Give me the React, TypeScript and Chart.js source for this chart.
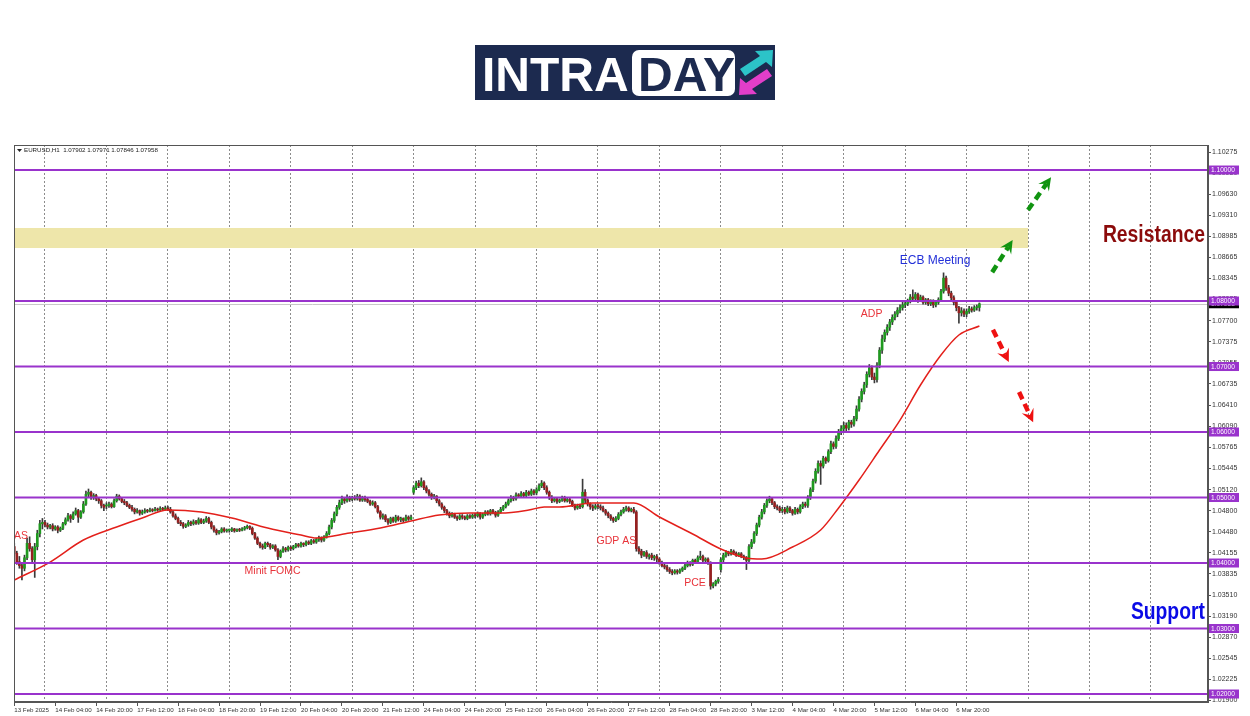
import React, { useEffect, useRef } from 'react';
import { Chart, registerables } from 'chart.js';

Chart.register(...registerables);

// ---------- DATA (EURUSD H1, prices stored in pips above 1.0000, e.g. 415 = 1.0415) ----------
const OPEN = [
  425, 415, 402, 396, 392, 408, 430, 422, 405, 425, 445, 460,
  462, 458, 455, 457, 452, 455, 450, 453, 460, 466, 472, 468, 475, 480, 470, 478, 490, 505, 508, 500, 503, 498, 495, 488,
  487, 488, 490, 486, 495, 502, 498, 494, 492, 488, 485, 482, 478, 480, 476, 478, 480, 479, 481, 480, 482, 481, 483, 482,
  484, 482, 478, 472, 468, 462, 460, 456, 458, 462, 460, 463, 461, 466, 462, 464, 468, 462, 455, 450, 446, 448, 452, 449,
  450, 450, 452, 449, 451, 450, 452, 454, 456, 453, 445, 438, 430, 426, 424, 430, 428, 424, 426, 420, 410, 418, 422, 420,
  424, 422, 425, 428, 426, 430, 428, 432, 430, 434, 432, 436, 438, 435, 440, 445, 455, 465, 475, 485, 492, 498, 495, 500,
  497, 500, 498, 502, 496, 500, 497, 494, 490, 492, 486, 478, 470, 472, 466, 462, 468, 464, 470, 466, 468, 465, 470, 467,
  508, 515, 522, 518, 524, 515, 510, 505, 500, 502, 495, 490, 485, 480, 476, 472, 474, 470, 468, 472, 470, 468, 472, 470,
  473, 472, 476, 470, 474, 478, 475, 480, 477, 473, 478, 482, 486, 490, 495, 500, 498, 504, 502, 506, 503, 508, 505, 510,
  507, 512, 518, 522, 515, 508, 500, 495, 498, 494, 496, 500, 495, 497, 494, 488, 484, 487, 486, 508, 496, 490, 486, 484,
  487, 486, 484, 480, 476, 472, 468, 465, 468, 474, 478, 482, 484, 480, 482, 478, 422, 418, 412, 416, 410, 412, 408, 410,
  406, 400, 396, 394, 390, 387, 385, 388, 386, 389, 392, 396, 400, 398, 404, 402, 408, 410, 404, 406, 400, 365, 368, 372,
  390, 405, 412, 416, 414, 418, 415, 412, 414, 410, 408, 404, 425, 432, 445, 458, 470, 478, 488, 495, 498, 492, 486, 484,
  480, 482, 478, 484, 480, 476, 482, 478, 486, 490, 488, 500, 512, 525, 540, 552, 548, 560, 556, 570, 582, 578, 590, 600,
  605, 610, 606, 615, 612, 620, 635, 650, 662, 672, 688, 698, 684, 680, 702, 725, 742, 752, 760, 768, 775, 780, 786, 790,
  794, 796, 800, 806, 804, 810, 802, 806, 798, 802, 796, 800, 794, 798, 802, 815, 835, 820, 812, 805, 798, 790, 782, 785,
  780, 784, 788, 786, 790, 790.2,
];
const HIGH = [
  430, 418, 410, 400, 412, 438, 440, 425, 430, 450, 465, 468,
  465, 461, 459, 460, 457, 457, 455, 462, 469, 476, 474, 478, 484, 482, 480, 494, 510, 513, 510, 506, 505, 500, 497, 490,
  492, 493, 492, 498, 505, 504, 500, 497, 494, 490, 488, 484, 483, 481, 481, 483, 482, 484, 483, 485, 484, 486, 485, 487,
  487, 485, 480, 475, 470, 465, 462, 460, 465, 464, 466, 465, 469, 468, 467, 471, 470, 464, 457, 452, 450, 454, 454, 452,
  452, 454, 453, 452, 453, 454, 456, 458, 457, 455, 447, 440, 432, 429, 432, 432, 430, 428, 428, 422, 420, 425, 424, 426,
  426, 427, 430, 430, 432, 431, 434, 434, 436, 436, 438, 441, 440, 442, 448, 458, 468, 478, 488, 496, 502, 500, 504, 502,
  502, 503, 505, 504, 502, 502, 499, 496, 495, 494, 488, 480, 475, 474, 468, 470, 470, 473, 472, 470, 469, 473, 472, 473,
  518, 525, 526, 530, 526, 518, 512, 507, 505, 503, 497, 492, 487, 482, 478, 477, 476, 472, 474, 474, 472, 474, 474, 475,
  476, 478, 477, 476, 480, 480, 482, 482, 479, 480, 485, 488, 493, 498, 503, 502, 507, 506, 509, 508, 511, 510, 513, 512,
  515, 521, 526, 524, 518, 510, 503, 500, 500, 498, 502, 502, 499, 499, 496, 490, 490, 490, 528, 512, 498, 492, 489, 490,
  490, 489, 487, 482, 478, 474, 470, 471, 477, 481, 485, 487, 486, 484, 485, 480, 425, 421, 418, 419, 414, 415, 412, 413,
  408, 403, 399, 397, 393, 390, 390, 390, 391, 394, 399, 403, 402, 406, 406, 411, 418, 412, 408, 408, 402, 370, 374, 378,
  408, 415, 419, 418, 421, 420, 417, 416, 416, 412, 410, 428, 436, 448, 461, 473, 482, 491, 498, 502, 500, 494, 489, 487,
  485, 485, 487, 486, 482, 485, 484, 489, 493, 493, 503, 515, 528, 544, 556, 556, 563, 562, 573, 586, 585, 594, 604, 610,
  615, 614, 618, 618, 624, 640, 654, 666, 676, 692, 703, 701, 690, 706, 729, 748, 756, 764, 772, 779, 784, 790, 794, 798,
  800, 803, 810, 817, 813, 812, 809, 808, 804, 804, 802, 802, 800, 805, 818, 843, 838, 824, 815, 808, 800, 792, 790, 788,
  788, 792, 791, 793, 794, 797.1,
];
const LOW = [
  412, 398, 392, 374, 388, 405, 418, 400, 378, 420, 440, 452,
  455, 452, 452, 449, 450, 446, 448, 451, 458, 464, 462, 466, 473, 462, 468, 476, 488, 500, 497, 497, 495, 491, 484, 480,
  483, 485, 484, 485, 493, 496, 492, 489, 486, 483, 479, 475, 476, 473, 474, 476, 477, 478, 478, 479, 479, 480, 480, 481,
  480, 476, 470, 466, 460, 457, 453, 454, 456, 457, 458, 459, 459, 460, 460, 462, 460, 452, 447, 443, 444, 446, 447, 447,
  447, 448, 447, 448, 448, 449, 450, 452, 451, 443, 436, 428, 423, 421, 422, 425, 421, 422, 418, 405, 408, 416, 417, 418,
  419, 420, 423, 424, 424, 425, 426, 428, 428, 430, 430, 433, 432, 433, 438, 443, 452, 462, 472, 482, 489, 491, 493, 494,
  495, 496, 496, 494, 494, 494, 492, 488, 488, 484, 476, 467, 467, 463, 459, 460, 462, 462, 464, 463, 462, 464, 465, 466,
  505, 512, 515, 516, 512, 507, 502, 497, 498, 492, 487, 482, 477, 473, 469, 470, 468, 465, 466, 467, 466, 466, 468, 468,
  469, 470, 467, 468, 472, 473, 473, 475, 470, 471, 476, 480, 484, 488, 493, 495, 496, 500, 500, 500, 501, 503, 503, 504,
  504, 510, 515, 512, 505, 497, 492, 493, 491, 492, 494, 493, 493, 491, 486, 481, 482, 483, 484, 492, 487, 482, 480, 482,
  483, 481, 478, 473, 469, 465, 462, 463, 466, 472, 476, 479, 478, 478, 476, 418, 414, 408, 410, 407, 406, 405, 404, 402,
  398, 394, 391, 387, 384, 382, 383, 383, 384, 387, 390, 394, 395, 396, 400, 400, 405, 402, 401, 398, 360, 362, 365, 369,
  386, 402, 409, 411, 412, 413, 410, 410, 408, 405, 390, 402, 422, 430, 442, 455, 467, 475, 485, 492, 489, 483, 481, 477,
  477, 475, 476, 477, 473, 474, 475, 476, 483, 485, 485, 497, 509, 522, 537, 520, 545, 552, 554, 567, 574, 575, 587, 596,
  600, 602, 603, 607, 609, 617, 632, 646, 658, 668, 684, 680, 675, 676, 698, 720, 738, 748, 755, 764, 771, 776, 782, 786,
  790, 793, 797, 800, 801, 798, 800, 795, 795, 793, 793, 790, 791, 795, 800, 812, 816, 808, 801, 794, 785, 766, 777, 776,
  776, 781, 783, 784, 786, 784.6,
];
const CLOSE = [
  415, 402, 396, 392, 408, 430, 422, 405, 425, 445, 460, 462,
  458, 455, 457, 452, 455, 450, 453, 460, 466, 472, 468, 475, 480, 470, 478, 490, 505, 508, 500, 503, 498, 495, 488, 485,
  488, 490, 486, 495, 502, 498, 494, 492, 488, 485, 482, 478, 480, 476, 478, 480, 479, 481, 480, 482, 481, 483, 482, 484,
  482, 478, 472, 468, 462, 460, 456, 458, 462, 460, 463, 461, 466, 462, 464, 468, 462, 455, 450, 446, 448, 452, 449, 450,
  450, 452, 449, 451, 450, 452, 454, 456, 453, 445, 438, 430, 426, 424, 430, 428, 424, 426, 420, 410, 418, 422, 420, 424,
  422, 425, 428, 426, 430, 428, 432, 430, 434, 432, 436, 438, 435, 440, 445, 455, 465, 475, 485, 492, 498, 495, 500, 497,
  500, 498, 502, 496, 500, 497, 494, 490, 492, 486, 478, 470, 472, 466, 462, 468, 464, 470, 466, 468, 465, 470, 467, 470,
  515, 522, 518, 524, 515, 510, 505, 500, 502, 495, 490, 485, 480, 476, 472, 474, 470, 468, 472, 470, 468, 472, 470, 473,
  472, 476, 470, 474, 478, 475, 480, 477, 473, 478, 482, 486, 490, 495, 500, 498, 504, 502, 506, 503, 508, 505, 510, 507,
  512, 518, 522, 515, 508, 500, 495, 498, 494, 496, 500, 495, 497, 494, 488, 484, 487, 486, 508, 496, 490, 486, 484, 487,
  486, 484, 480, 476, 472, 468, 465, 468, 474, 478, 482, 484, 480, 482, 478, 422, 418, 412, 416, 410, 412, 408, 410, 406,
  400, 396, 394, 390, 387, 385, 388, 386, 389, 392, 396, 400, 398, 404, 402, 408, 410, 404, 406, 400, 365, 368, 372, 375,
  405, 412, 416, 414, 418, 415, 412, 414, 410, 408, 404, 425, 432, 445, 458, 470, 478, 488, 495, 498, 492, 486, 484, 480,
  482, 478, 484, 480, 476, 482, 478, 486, 490, 488, 500, 512, 525, 540, 552, 548, 560, 556, 570, 582, 578, 590, 600, 605,
  610, 606, 615, 612, 620, 635, 650, 662, 672, 688, 698, 684, 680, 702, 725, 742, 752, 760, 768, 775, 780, 786, 790, 794,
  796, 800, 806, 804, 810, 802, 806, 798, 802, 796, 800, 794, 798, 802, 815, 835, 820, 812, 805, 798, 790, 782, 785, 780,
  784, 788, 786, 790, 790, 795.8,
];

// Moving average (red line), sampled at bar indices
const MA_BARS = [0, 14, 27, 40, 50, 60, 73, 85, 99, 112, 118, 131, 143, 155, 166, 178, 190, 201, 207, 213, 226, 242, 252, 265, 276, 286, 292, 304, 315, 322, 330, 338, 346, 354, 362, 369, 377];
const MA_VALUES = [1.0374, 1.04015, 1.04351, 1.0455, 1.04687, 1.04809, 1.04779, 1.04687, 1.04534, 1.04427, 1.04382, 1.04458, 1.04534, 1.04641, 1.04733, 1.04763, 1.04763, 1.04809, 1.04855, 1.04855, 1.04916, 1.04916, 1.04702, 1.04443, 1.04214, 1.04076, 1.04061, 1.04244, 1.04504, 1.0484, 1.05267, 1.05725, 1.06183, 1.06718, 1.07176, 1.07481, 1.07618];

const X_TICK_BARS = [0, 16, 32, 48, 64, 80, 96, 112, 128, 144, 160, 176, 192, 208, 224, 240, 256, 272, 288, 304, 320, 336, 352, 368];
const X_TICK_LABELS = ['13 Feb 2025', '14 Feb 04:00', '14 Feb 20:00', '17 Feb 12:00', '18 Feb 04:00', '18 Feb 20:00', '19 Feb 12:00', '20 Feb 04:00', '20 Feb 20:00', '21 Feb 12:00', '24 Feb 04:00', '24 Feb 20:00', '25 Feb 12:00', '26 Feb 04:00', '26 Feb 20:00', '27 Feb 12:00', '28 Feb 04:00', '28 Feb 20:00', '3 Mar 12:00', '4 Mar 04:00', '4 Mar 20:00', '5 Mar 12:00', '6 Mar 04:00', '6 Mar 20:00'];
const DAY_START_BARS = [12, 36, 60, 84, 108, 132, 156, 180, 204, 228, 252, 276, 300, 324, 348, 372, 396, 420, 444];
const Y_TICKS = [1.10275, 1.0995, 1.0963, 1.0931, 1.08985, 1.08665, 1.08345, 1.08025, 1.077, 1.07375, 1.07055, 1.06735, 1.0641, 1.0609, 1.05765, 1.05445, 1.0512, 1.048, 1.0448, 1.04155, 1.03835, 1.0351, 1.0319, 1.0287, 1.02545, 1.02225, 1.019];
const LEVELS = [1.1, 1.08, 1.07, 1.06, 1.05, 1.04, 1.03, 1.02];
const BID = 1.07958;
const ZONE_BARS = [-0.1, 396];
const ZONE_PRICES = [1.08809, 1.09115];

const NOTE_TEXT = ['AS', 'Minit FOMC', 'GDP AS', 'PCE', 'ADP', 'ECB Meeting'];
const NOTE_BAR = [-0.1, 100.9, 235.2, 265.9, 334.9, 359.7];
const NOTE_PRICE = [1.04412, 1.03878, 1.04336, 1.03695, 1.07802, 1.08611];
const BIG_TEXT = ['Resistance', 'Support'];
const BIG_BAR = [465.1, 465.1];
const BIG_PRICE = [1.08992, 1.03237];

// arrows: [fromBar, fromPrice, toBar, toPrice]
const ARROWS_UP = [[382, 1.0844, 390, 1.0893], [396, 1.0939, 405, 1.0989]];
const ARROWS_DOWN = [[382.3, 1.0756, 388.5, 1.0707], [392.5, 1.0661, 398, 1.0615]];

const X_MIN = -0.1;
const X_MAX = 466.3;
const Y_MIN = 1.01878;
const Y_MAX = 1.10382;

// ---------- STYLE ----------
const FONT = '"Liberation Sans", Arial, sans-serif';
const TEXT = '#333333';
const AXIS = '#555555';
const GRID = '#8c8c8c';
const BULL = '#1f9a1f';
const BEAR = '#962020';
const WICK = '#3a3a3a';
const MA_COLOR = '#e3201b';
const LEVEL_COLOR = '#9933cc';
const ZONE_COLOR = '#eee6aa';

const toPrice = (p: number) => 1 + p / 10000;
const BAR_IDX = CLOSE.map((_, i) => i);

function drawArrow(ctx: CanvasRenderingContext2D, x0: number, y0: number, x1: number, y1: number, color: string) {
  const ang = Math.atan2(y1 - y0, x1 - x0);
  const c = Math.cos(ang), s = Math.sin(ang);
  const len = 13, wing = 6.5, notch = 8;
  const nx = x1 - notch * c, ny = y1 - notch * s;
  ctx.save();
  ctx.strokeStyle = color;
  ctx.fillStyle = color;
  ctx.lineWidth = 4.5;
  ctx.setLineDash([8, 5]);
  ctx.beginPath();
  ctx.moveTo(x0, y0);
  ctx.lineTo(nx, ny);
  ctx.stroke();
  ctx.setLineDash([]);
  const bx = x1 - len * c, by = y1 - len * s;
  ctx.beginPath();
  ctx.moveTo(x1, y1);
  ctx.lineTo(bx - wing * s, by + wing * c);
  ctx.lineTo(nx, ny);
  ctx.lineTo(bx + wing * s, by - wing * c);
  ctx.closePath();
  ctx.fill();
  ctx.restore();
}

const overlayPlugin = {
  id: 'overlay',
  beforeDatasetsDraw(chart: any) {
    const { ctx, chartArea: a } = chart;
    const x = chart.scales.x, y = chart.scales.y;
    ctx.save();
    ctx.beginPath();
    ctx.rect(a.left, a.top, a.right - a.left, a.bottom - a.top);
    ctx.clip();
    const zx0 = x.getPixelForValue(ZONE_BARS[0]);
    const zx1 = x.getPixelForValue(ZONE_BARS[1]);
    const zy0 = y.getPixelForValue(ZONE_PRICES[1]);
    const zy1 = y.getPixelForValue(ZONE_PRICES[0]);
    ctx.fillStyle = ZONE_COLOR;
    ctx.fillRect(zx0, zy0, zx1 - zx0, zy1 - zy0);
    const by = Math.round(y.getPixelForValue(BID)) + 0.5;
    ctx.strokeStyle = '#c8c8c8';
    ctx.lineWidth = 1;
    ctx.beginPath();
    ctx.moveTo(a.left, by);
    ctx.lineTo(a.right, by);
    ctx.stroke();
    ctx.restore();
  },
  afterDatasetsDraw(chart: any) {
    const { ctx, chartArea: a } = chart;
    const x = chart.scales.x, y = chart.scales.y;
    ctx.save();
    ctx.beginPath();
    ctx.rect(a.left, a.top, a.right - a.left, a.bottom - a.top);
    ctx.clip();
    // horizontal levels
    ctx.strokeStyle = LEVEL_COLOR;
    ctx.lineWidth = 2;
    LEVELS.forEach((lv) => {
      const py = y.getPixelForValue(lv);
      ctx.beginPath();
      ctx.moveTo(a.left, py);
      ctx.lineTo(a.right, py);
      ctx.stroke();
    });
    // arrows
    ARROWS_UP.forEach((ar) => drawArrow(ctx, x.getPixelForValue(ar[0]), y.getPixelForValue(ar[1]), x.getPixelForValue(ar[2]), y.getPixelForValue(ar[3]), '#119411'));
    ARROWS_DOWN.forEach((ar) => drawArrow(ctx, x.getPixelForValue(ar[0]), y.getPixelForValue(ar[1]), x.getPixelForValue(ar[2]), y.getPixelForValue(ar[3]), '#ee1111'));
    // notes
    ctx.textBaseline = 'middle';
    NOTE_TEXT.forEach((t, i) => {
      const isEcb = t === 'ECB Meeting';
      ctx.font = `${isEcb ? 12 : 10.5}px ${FONT}`;
      ctx.fillStyle = isEcb ? '#2330d8' : '#e8333a';
      ctx.textAlign = i === 0 ? 'left' : 'center';
      ctx.fillText(t, x.getPixelForValue(NOTE_BAR[i]), y.getPixelForValue(NOTE_PRICE[i]));
    });
    BIG_TEXT.forEach((t, i) => {
      ctx.save();
      ctx.translate(x.getPixelForValue(BIG_BAR[i]), y.getPixelForValue(BIG_PRICE[i]));
      ctx.scale(0.84, 1);
      ctx.font = `bold 23px ${FONT}`;
      ctx.fillStyle = i === 0 ? '#8b0a0a' : '#0a0ae6';
      ctx.textAlign = 'right';
      ctx.fillText(t, 0, 0);
      ctx.restore();
    });
    ctx.restore();
  },
  afterDraw(chart: any) {
    const { ctx, chartArea: a } = chart;
    const y = chart.scales.y;
    ctx.save();
    // frame
    ctx.strokeStyle = AXIS;
    ctx.lineWidth = 1;
    ctx.strokeRect(Math.round(a.left) + 0.5, Math.round(a.top) + 0.5, Math.round(a.right - a.left) - 1, Math.round(a.bottom - a.top) - 1);
    // header
    const n = CLOSE.length - 1;
    const f = (p: number) => toPrice(p).toFixed(5);
    ctx.fillStyle = '#222';
    ctx.beginPath();
    ctx.moveTo(a.left + 3, a.top + 4);
    ctx.lineTo(a.left + 8, a.top + 4);
    ctx.lineTo(a.left + 5.5, a.top + 7);
    ctx.closePath();
    ctx.fill();
    ctx.font = `6.2px ${FONT}`;
    ctx.textAlign = 'left';
    ctx.textBaseline = 'middle';
    ctx.fillText(`EURUSD,H1  ${f(OPEN[n])} ${f(HIGH[n])} ${f(LOW[n])} ${f(CLOSE[n])}`, a.left + 10, a.top + 5.5);
    // price labels on axis
    const drawTag = (price: number, bg: string) => {
      const py = y.getPixelForValue(price);
      ctx.fillStyle = bg;
      ctx.fillRect(a.right + 1, py - 4.5, 30, 9);
      ctx.fillStyle = '#ffffff';
      ctx.font = `6.6px ${FONT}`;
      ctx.fillText(price.toFixed(5), a.right + 3, py + 0.5);
    };
    drawTag(BID, '#000000');
    LEVELS.forEach((lv) => drawTag(lv, LEVEL_COLOR));
    ctx.restore();
  },
};

function buildConfig(): any {
  return {
    type: 'bar',
    data: {
      datasets: [
        {
          type: 'line',
          label: 'MA',
          data: MA_BARS.map((b, k) => ({ x: b, y: MA_VALUES[k] })),
          borderColor: MA_COLOR,
          borderWidth: 1.5,
          pointRadius: 0,
          cubicInterpolationMode: 'monotone',
          order: 0,
        },
        {
          label: 'Body',
          data: BAR_IDX.map((i) => ({ x: i, y: [toPrice(OPEN[i]), toPrice(CLOSE[i])] })),
          backgroundColor: BAR_IDX.map((i) => (CLOSE[i] >= OPEN[i] ? BULL : BEAR)),
          barThickness: 2,
          minBarLength: 1,
          grouped: false,
          order: 1,
        },
        {
          label: 'Wick',
          data: BAR_IDX.map((i) => ({ x: i, y: [toPrice(LOW[i]), toPrice(HIGH[i])] })),
          backgroundColor: WICK,
          barThickness: 1,
          grouped: false,
          order: 2,
        },
      ],
    },
    options: {
      responsive: false,
      animation: false,
      devicePixelRatio: 1,
      layout: { padding: { left: 14, top: 145, right: 0, bottom: 0 } },
      plugins: { legend: { display: false }, tooltip: { enabled: false } },
      scales: {
        x: {
          type: 'linear',
          position: 'bottom',
          min: X_MIN,
          max: X_MAX,
          offset: false,
          afterBuildTicks: (s: any) => { s.ticks = X_TICK_BARS.map((v) => ({ value: v })); },
          afterFit: (s: any) => { s.height = 14; },
          ticks: {
            autoSkip: false, maxRotation: 0, minRotation: 0, align: 'start', padding: 1,
            color: TEXT, font: { family: FONT, size: 6.2 },
            callback: (_v: any, i: number) => X_TICK_LABELS[i],
          },
          grid: { drawOnChartArea: false, drawTicks: true, tickLength: 4, tickColor: AXIS, offset: false },
          border: { display: true, color: AXIS, width: 1 },
        },
        xd: {
          type: 'linear',
          position: 'bottom',
          min: X_MIN,
          max: X_MAX,
          offset: false,
          afterBuildTicks: (s: any) => { s.ticks = DAY_START_BARS.map((v) => ({ value: v })); },
          afterFit: (s: any) => { s.height = 0; },
          ticks: { display: false },
          grid: { drawOnChartArea: true, drawTicks: false, color: GRID, lineWidth: 1, offset: false },
          border: { display: false, dash: [2, 2] },
        },
        y: {
          type: 'linear',
          position: 'right',
          min: Y_MIN,
          max: Y_MAX,
          beginAtZero: false,
          afterBuildTicks: (s: any) => { s.ticks = Y_TICKS.map((v) => ({ value: v })); },
          afterFit: (s: any) => { s.width = 42; },
          ticks: {
            padding: 1, color: TEXT, font: { family: FONT, size: 7 },
            callback: (v: any) => Number(v).toFixed(5),
          },
          grid: { drawOnChartArea: false, drawTicks: true, tickLength: 3, tickColor: AXIS },
          border: { display: true, color: AXIS },
        },
      },
    },
    plugins: [overlayPlugin],
  };
}

function Logo() {
  const navy = '#1c2a4f';
  return (
    <div style={{ position: 'absolute', left: 475, top: 45, width: 300, height: 55, background: navy }}>
      <div style={{ position: 'absolute', left: 7, top: 2, height: 55, lineHeight: '55px', font: `bold 48px ${FONT}`, color: '#ffffff', letterSpacing: 0 }}>INTRA</div>
      <div style={{ position: 'absolute', left: 157, top: 5, width: 103, height: 46, background: '#ffffff', borderRadius: 7 }}>
        <div style={{ position: 'absolute', left: 6, top: -3, height: 55, lineHeight: '55px', font: `bold 48px ${FONT}`, color: navy }}>DAY</div>
      </div>
      <svg width="36" height="46" viewBox="0 0 36 46" style={{ position: 'absolute', left: 263, top: 5 }}>
        <polygon points="35,0 34,17 28,12 7,26 2,19 22,6 17,1" fill="#2cc3c8" />
        <polygon points="1,45 2,28 8,33 29,19 34,26 14,39 19,44" fill="#e23ec9" />
      </svg>
    </div>
  );
}

export default function App() {
  const ref = useRef<HTMLCanvasElement>(null);
  useEffect(() => {
    if (!ref.current) return;
    const chart = new Chart(ref.current, buildConfig());
    return () => chart.destroy();
  }, []);
  return (
    <div style={{ position: 'fixed', left: 0, top: 0, width: 1250, height: 716, background: '#ffffff', overflow: 'hidden' }}>
      <canvas ref={ref} width={1250} height={716} style={{ position: 'absolute', left: 0, top: 0, width: 1250, height: 716 }} />
      <Logo />
    </div>
  );
}
